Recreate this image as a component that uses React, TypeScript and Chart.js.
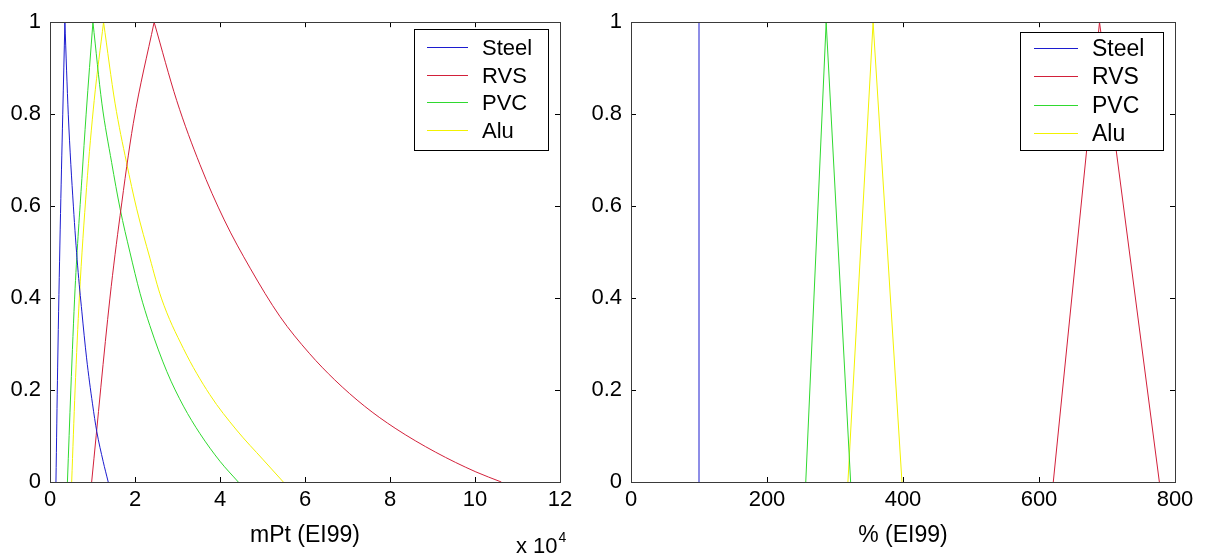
import React, { useEffect, useRef } from 'react';
import { Chart, registerables } from 'chart.js';

Chart.register(...registerables);

const FONT = '"Liberation Sans", Arial, Helvetica, sans-serif';

const seriesNames = ['Steel', 'RVS', 'PVC', 'Alu'];
const seriesColors = ['#1c1ccf', '#d2203a', '#2fd92f', '#f2f200'];

// Left panel: mPt (EI99), x values in units of 10^4
const mptSteelX = [0.14, 0.18, 0.24, 0.30, 0.35, 0.43, 0.55, 0.65, 0.75, 0.86, 1.00, 1.10, 1.25, 1.37];
const mptSteelY = [0, 0.25, 0.55, 0.8, 1, 0.8, 0.6, 0.47, 0.37, 0.27, 0.17, 0.11, 0.045, 0];
const mptRvsX = [0.98, 1.41, 1.65, 1.96, 2.45, 2.98, 3.53, 4.10, 4.71, 5.41, 6.10, 6.70, 7.40, 8.12, 9.07, 10.02, 10.62];
const mptRvsY = [0, 0.40, 0.58, 0.78, 1, 0.83, 0.69, 0.57, 0.465, 0.36, 0.28, 0.222, 0.165, 0.117, 0.065, 0.022, 0];
const mptPvcX = [0.41, 0.49, 0.59, 0.75, 0.85, 1.01, 1.22, 1.45, 1.65, 1.88, 2.12, 2.35, 2.75, 3.14, 3.53, 4.0, 4.43];
const mptPvcY = [0, 0.2, 0.42, 0.66, 0.8, 1, 0.824, 0.695, 0.594, 0.50, 0.41, 0.34, 0.24, 0.165, 0.105, 0.045, 0];
const mptAluX = [0.51, 0.59, 0.69, 0.86, 1.04, 1.26, 1.53, 1.80, 2.04, 2.35, 2.62, 3.14, 3.76, 4.39, 5.02, 5.49];
const mptAluY = [0, 0.2, 0.40, 0.64, 0.83, 1, 0.824, 0.695, 0.594, 0.487, 0.40, 0.29, 0.19, 0.113, 0.048, 0];

// Right panel: % (EI99)
const pctSteelX = [100, 100];
const pctSteelY = [0, 1];
const pctRvsX = [621, 689, 777];
const pctRvsY = [0, 1, 0];
const pctPvcX = [257, 287, 323];
const pctPvcY = [0, 1, 0];
const pctAluX = [319, 356, 398.5];
const pctAluY = [0, 1, 0];

const mptTicksMax = 12;
const mptTickStep = 2;
const pctTicksMax = 800;
const pctTickStep = 200;
const yTickStep = 0.2;

type LegendBox = { left: number; top: number; width: number; height: number; rowH: number; lineX0: number; lineX1: number; textX: number; firstRow: number; fontSize: number };

type Panel = {
  xs: number[][];
  ys: number[][];
  smooth: boolean;
  xMax: number;
  xStep: number;
  xTitle: string;
  width: number;
  height: number;
  yAxisWidth: number;
  xAxisHeight: number;
  padTop: number;
  padRight: number;
  legend: LegendBox;
};

const framePlugin = {
  id: 'matlabFrame',
  afterDatasetsDraw(chart: any) {
    const { ctx, chartArea: a, scales } = chart;
    const len = 5;
    ctx.save();
    ctx.strokeStyle = '#000';
    ctx.lineWidth = 1;
    ctx.beginPath();
    scales.x.ticks.forEach((_t: any, i: number) => {
      const px = Math.round(scales.x.getPixelForTick(i)) + 0.5;
      ctx.moveTo(px, a.bottom);
      ctx.lineTo(px, a.bottom - len);
      ctx.moveTo(px, a.top);
      ctx.lineTo(px, a.top + len);
    });
    scales.y.ticks.forEach((_t: any, i: number) => {
      const py = Math.round(scales.y.getPixelForTick(i)) + 0.5;
      ctx.moveTo(a.left, py);
      ctx.lineTo(a.left + len, py);
      ctx.moveTo(a.right, py);
      ctx.lineTo(a.right - len, py);
    });
    ctx.stroke();
    ctx.strokeStyle = '#3a3a3a';
    ctx.strokeRect(Math.round(a.left) + 0.5, Math.round(a.top) + 0.5, Math.round(a.width), Math.round(a.height));
    ctx.restore();
  },
};

const legendPlugin = {
  id: 'boxLegend',
  afterDraw(chart: any, _args: any, opts: any) {
    const { ctx } = chart;
    const L: LegendBox = opts.box;
    if (!L) return;
    ctx.save();
    ctx.fillStyle = '#fff';
    ctx.fillRect(L.left, L.top, L.width, L.height);
    ctx.strokeStyle = '#000';
    ctx.lineWidth = 1;
    ctx.strokeRect(L.left + 0.5, L.top + 0.5, L.width, L.height);
    ctx.font = `${L.fontSize}px ${FONT}`;
    ctx.textBaseline = 'middle';
    ctx.textAlign = 'left';
    seriesNames.forEach((name, i) => {
      const y = Math.round(L.top + L.firstRow + i * L.rowH) + 0.5;
      ctx.beginPath();
      ctx.strokeStyle = seriesColors[i];
      ctx.lineWidth = 1;
      ctx.moveTo(L.left + L.lineX0, y);
      ctx.lineTo(L.left + L.lineX1, y);
      ctx.stroke();
      ctx.fillStyle = '#000';
      ctx.fillText(name, L.left + L.textX, y + 1);
    });
    ctx.restore();
  },
};

function buildConfig(p: Panel): any {
  const datasets: any[] = [];
  seriesNames.forEach((name, i) => {
    const pts = p.xs[i].map((x, j) => ({ x, y: p.ys[i][j] }));
    // split at the peak so the apex stays sharp while each branch is smooth
    let peak = 0;
    pts.forEach((pt, j) => {
      if (pt.y > pts[peak].y) peak = j;
    });
    const branches = p.smooth ? [pts.slice(0, peak + 1), pts.slice(peak)] : [pts];
    branches.forEach((data) => {
      if (data.length < 2) return;
      datasets.push({
        label: name,
        data,
        borderColor: seriesColors[i],
        backgroundColor: seriesColors[i],
        borderWidth: 1,
        pointRadius: 0,
        showLine: true,
        cubicInterpolationMode: p.smooth ? 'monotone' : 'default',
        tension: 0,
        fill: false,
      });
    });
  });
  const tickFont = { family: FONT, size: 22 };
  return {
    type: 'scatter',
    data: { datasets },
    plugins: [framePlugin, legendPlugin],
    options: {
      animation: false,
      responsive: false,
      events: [],
      layout: { padding: { top: p.padTop, right: p.padRight, left: 0, bottom: 0 } },
      plugins: {
        legend: { display: false },
        tooltip: { enabled: false },
        boxLegend: { box: p.legend },
      },
      scales: {
        x: {
          type: 'linear',
          min: 0,
          max: p.xMax,
          ticks: { stepSize: p.xStep, color: '#000', font: tickFont, padding: 5, maxRotation: 0 },
          grid: { display: false, drawTicks: false },
          border: { display: false },
          title: { display: true, text: p.xTitle, color: '#000', font: { family: FONT, size: 23 }, padding: { top: 0, bottom: 10 } },
          afterFit(scale: any) {
            scale.height = p.xAxisHeight;
          },
        },
        y: {
          type: 'linear',
          min: 0,
          max: 1,
          ticks: {
            stepSize: yTickStep,
            color: '#000',
            font: tickFont,
            padding: 9,
            callback: (v: any) => Number(v).toFixed(1).replace(/\.0$/, ''),
          },
          grid: { display: false, drawTicks: false },
          border: { display: false },
          afterFit(scale: any) {
            scale.width = p.yAxisWidth;
          },
        },
      },
    },
  };
}

const leftPanel: Panel = {
  xs: [mptSteelX, mptRvsX, mptPvcX, mptAluX],
  ys: [mptSteelY, mptRvsY, mptPvcY, mptAluY],
  smooth: true,
  xMax: mptTicksMax,
  xStep: mptTickStep,
  xTitle: 'mPt (EI99)',
  width: 600,
  height: 559,
  yAxisWidth: 50,
  xAxisHeight: 559 - 482,
  padTop: 18,
  padRight: 40,
  legend: { left: 414, top: 29, width: 134, height: 121, rowH: 27.7, lineX0: 13, lineX1: 54, textX: 68, firstRow: 18, fontSize: 22 },
};

const RIGHT_LEFT = 570;

const rightPanel: Panel = {
  xs: [pctSteelX, pctRvsX, pctPvcX, pctAluX],
  ys: [pctSteelY, pctRvsY, pctPvcY, pctAluY],
  smooth: false,
  xMax: pctTicksMax,
  xStep: pctTickStep,
  xTitle: '% (EI99)',
  width: 635,
  height: 559,
  yAxisWidth: 631 - RIGHT_LEFT,
  xAxisHeight: 559 - 482,
  padTop: 18,
  padRight: 635 - (1175 - RIGHT_LEFT),
  legend: { left: 1020 - RIGHT_LEFT, top: 32, width: 143, height: 118, rowH: 28.3, lineX0: 14, lineX1: 58, textX: 72, firstRow: 16, fontSize: 23 },
};

function PanelChart({ panel, left }: { panel: Panel; left: number }) {
  const ref = useRef<HTMLCanvasElement | null>(null);
  useEffect(() => {
    if (!ref.current) return;
    const chart = new Chart(ref.current, buildConfig(panel));
    return () => chart.destroy();
  }, [panel]);
  return (
    <div style={{ position: 'absolute', left, top: 0, width: panel.width, height: panel.height }}>
      <canvas ref={ref} width={panel.width} height={panel.height} style={{ display: 'block' }} />
    </div>
  );
}

export default function App() {
  return (
    <div style={{ position: 'fixed', left: 0, top: 0, width: 1205, height: 559, background: '#fff', overflow: 'hidden' }}>
      <PanelChart panel={leftPanel} left={0} />
      <PanelChart panel={rightPanel} left={RIGHT_LEFT} />
      <div
        style={{
          position: 'absolute',
          left: 516,
          top: 535,
          fontFamily: FONT,
          fontSize: 22,
          lineHeight: '22px',
          color: '#000',
          whiteSpace: 'nowrap',
        }}
      >
        x 10<span style={{ fontSize: 14, position: 'relative', top: -11, marginLeft: 1 }}>4</span>
      </div>
    </div>
  );
}
